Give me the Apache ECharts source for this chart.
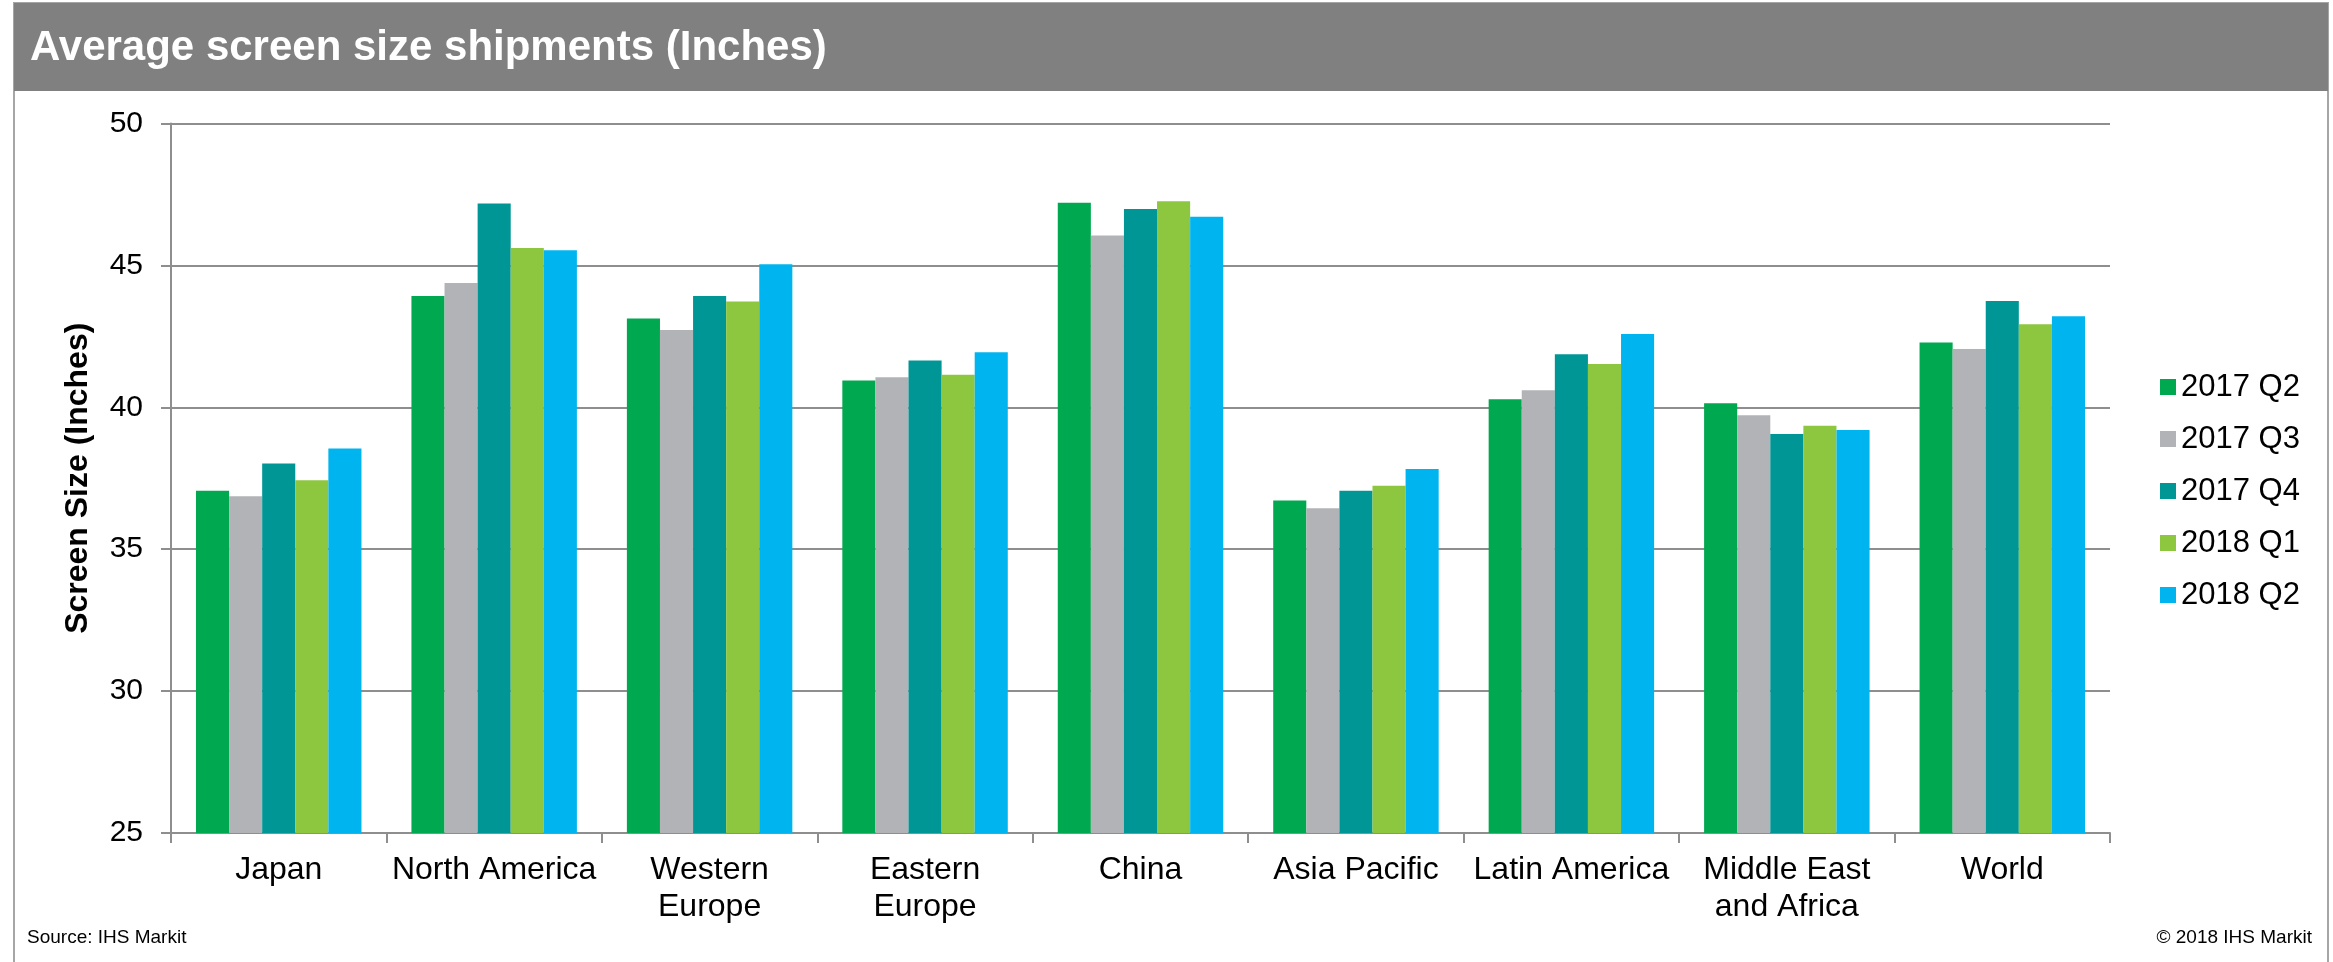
<!DOCTYPE html>
<html>
<head>
<meta charset="utf-8">
<script src="https://cdn.jsdelivr.net/npm/echarts@6/dist/echarts.min.js"></script>
<style>
html,body{margin:0;padding:0;background:#fff;}
#chart{width:2333px;height:962px;}
</style>
</head>
<body>
<div id="chart"></div>
<script>
const categories = ['Japan', 'North America', 'Western\nEurope', 'Eastern\nEurope', 'China', 'Asia Pacific', 'Latin America', 'Middle East\nand Africa', 'World'];
const seriesNames = ['2017 Q2', '2017 Q3', '2017 Q4', '2018 Q1', '2018 Q2'];
const q2_2017 = [37.06, 43.92, 43.13, 40.94, 47.21, 36.72, 40.28, 40.14, 42.28];
const q3_2017 = [36.87, 44.38, 42.72, 41.06, 46.05, 36.44, 40.60, 39.72, 42.05];
const q4_2017 = [38.02, 47.18, 43.92, 41.65, 46.99, 37.06, 41.87, 39.06, 43.75];
const q1_2018 = [37.43, 45.61, 43.73, 41.15, 47.26, 37.24, 41.53, 39.35, 42.93];
const q2_2018 = [38.55, 45.53, 45.04, 41.94, 46.71, 37.83, 42.58, 39.20, 43.21];
const yTicks = [25, 30, 35, 40, 45, 50];

const colors = ['#00A84F', '#B1B3B6', '#009696', '#8DC63F', '#00B5EF'];
const seriesData = [q2_2017, q3_2017, q4_2017, q1_2018, q2_2018];
const FONT = '"Liberation Sans", Arial, sans-serif';
const GRIDC = '#8E8E8E';

const chart = echarts.init(document.getElementById('chart'), null, {renderer: 'canvas'});
chart.setOption({
  animation: false,
  backgroundColor: '#ffffff',
  color: colors,
  textStyle: {fontFamily: FONT},
  graphic: [
    {type: 'rect', shape: {x: 14, y: 3, width: 2314, height: 1000}, style: {fill: 'none', stroke: '#A6A6A6', lineWidth: 2}, z: 0},
    {type: 'rect', shape: {x: 14, y: 3, width: 2314, height: 88}, style: {fill: '#7F807F'}, z: 1},
    {type: 'text', x: 30, y: 48, style: {text: 'Average screen size shipments (Inches)', fill: '#ffffff', font: 'bold 42px ' + FONT, verticalAlign: 'middle', textVerticalAlign: 'middle'}, z: 2},
    {type: 'text', x: 27, y: 938, style: {text: 'Source: IHS Markit', fill: '#000', font: '19px ' + FONT, verticalAlign: 'middle', textVerticalAlign: 'middle'}, z: 2},
    {type: 'text', x: 2312, y: 938, style: {text: '\u00A9 2018 IHS Markit', fill: '#000', font: '19px ' + FONT, align: 'right', textAlign: 'right', verticalAlign: 'middle', textVerticalAlign: 'middle'}, z: 2}
  ],
  legend: {
    orient: 'vertical',
    left: 2155,
    top: 366,
    itemWidth: 16,
    itemHeight: 16,
    itemGap: 20,
    icon: 'rect',
    textStyle: {fontSize: 31, color: '#000', fontFamily: FONT, lineHeight: 32},
    data: seriesNames
  },
  grid: {left: 171, right: 223, top: 123.5, bottom: 129, containLabel: false, outerBoundsMode: 'none'},
  xAxis: {
    type: 'category',
    data: categories,
    axisLine: {lineStyle: {color: GRIDC, width: 2}},
    axisTick: {show: true, length: 10, lineStyle: {color: GRIDC, width: 2}},
    axisLabel: {fontSize: 32, color: '#000', margin: 19, lineHeight: 37, fontFamily: FONT, interval: 0}
  },
  yAxis: {
    type: 'value',
    min: 25,
    max: 50,
    interval: 5,
    name: 'Screen Size (Inches)',
    nameLocation: 'middle',
    nameGap: 77,
    nameTextStyle: {fontSize: 32, fontWeight: 'bold', color: '#000', fontFamily: FONT},
    axisLine: {show: true, lineStyle: {color: GRIDC, width: 2}},
    axisTick: {show: true, length: 10, lineStyle: {color: GRIDC, width: 2}},
    axisLabel: {fontSize: 30, color: '#000', margin: 28, fontFamily: FONT,
      formatter: v => yTicks.includes(v) ? String(v) : ''},
    splitLine: {show: true, lineStyle: {color: GRIDC, width: 2}}
  },
  series: seriesData.map((d, i) => ({
    name: seriesNames[i],
    type: 'bar',
    data: d,
    barGap: '0%',
    barCategoryGap: '23.2%',
    itemStyle: {color: colors[i]}
  }))
});
</script>
</body>
</html>
